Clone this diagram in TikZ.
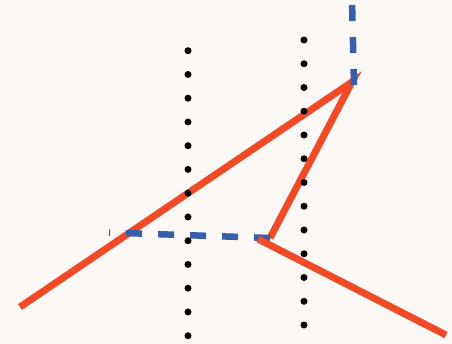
\documentclass[tikz,border=0pt]{standalone}
\usepackage{tikz}
\usetikzlibrary{backgrounds}
\definecolor{bgpaper}{RGB}{251,248,246}
\definecolor{rayred}{RGB}{240,74,38}
\definecolor{dashblue}{RGB}{56,94,172}

\begin{document}
\begin{tikzpicture}[x=0.02cm, y=-0.02cm,
      dot/.style={circle, fill=black, inner sep=0pt, minimum size=0.14cm},
      ray/.style={rayred, line width=0.14cm},
      guide/.style={dashblue, line width=0.13cm, dash pattern=on 0.32cm off 0.32cm}]
    \fill[bgpaper] (0,0) rectangle (452,344);
    \useasboundingbox (0,0) rectangle (452,344);
    % corner points
    \coordinate (lowleft) at (20,307);
    \coordinate (apex) at (352,82);
    \coordinate (knee) at (270,238);
    \coordinate (kneeb) at (258,239);
    \coordinate (lowright) at (446,335);
    \coordinate (bluetop) at (352,0);
    \coordinate (bluebase) at (354,85);
    \coordinate (bluewest) at (109,232.5);
    \coordinate (blueeast) at (270,238);
    % red path, blue guides
    \draw[ray] (lowleft) -- (apex) -- (knee);
    \draw[guide] (blueeast) -- (bluewest);
    \draw[ray] (kneeb) -- (lowright);
    \draw[guide] (bluebase) -- (bluetop);
    % dotted columns
    \foreach \i in {0,...,12} {
      \node[dot] (l\i) at (188,{50.7+23.75*\i}) {};
      \node[dot] (r\i) at (304,{40+23.75*\i}) {};
    }
  \end{tikzpicture}
\end{document}
